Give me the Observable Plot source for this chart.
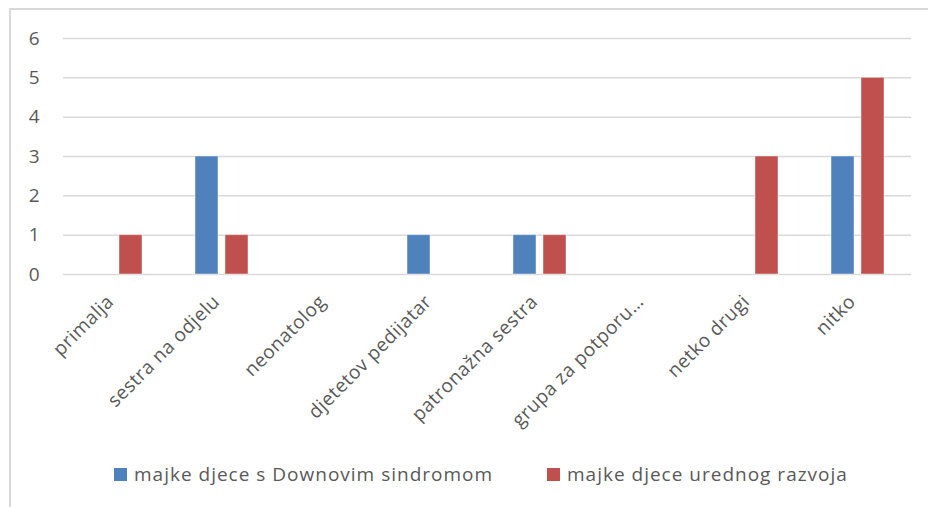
<!DOCTYPE html>
<html>
<head>
<meta charset="utf-8">
<script src="https://cdn.jsdelivr.net/npm/d3@7"></script>
<script src="https://cdn.jsdelivr.net/npm/@observablehq/plot@0.6"></script>
<style>
  html, body { margin: 0; padding: 0; background: #fff; }
  #wrap { position: relative; width: 928px; height: 507px; overflow: hidden; font-family: "Open Sans", sans-serif; }
  #frame { position: absolute; left: 9px; top: 8px; width: 940px; height: 520px; border-left: 2px solid #d9d9d9; border-top: 2px solid #d9d9d9; box-sizing: border-box; }
  #chart { position: absolute; left: 0; top: 0; }
  #chart g[aria-label="fx-axis tick label"] { letter-spacing: 0.5px; }
  #legend { position: absolute; left: 0; top: 459px; width: 928px; height: 30px; font-size: 19px; letter-spacing: 1px; color: #595959; }
  .item { position: absolute; top: 0; display: flex; align-items: center; height: 30px; white-space: nowrap; }
  .key { width: 13px; height: 13px; margin-right: 7px; }
</style>
</head>
<body>
<div id="wrap">
  <div id="frame"></div>
  <div id="chart"></div>
  <div id="legend"></div>
</div>
<script>
const categories = ["primalja", "sestra na odjelu", "neonatolog", "djetetov pedijatar", "patronažna sestra", "grupa za potporu…", "netko drugi", "nitko"];
const seriesNames = ["majke djece s Downovim sindromom", "majke djece urednog razvoja"];
const downValues = [0, 3, 0, 1, 1, 0, 0, 3];
const typicalValues = [1, 1, 0, 0, 1, 0, 3, 5];
const yTicks = [0, 1, 2, 3, 4, 5, 6];
const colors = ["#4F81BD", "#C0504D"];

const data = categories.flatMap((c, i) => [
  {category: c, series: seriesNames[0], value: downValues[i]},
  {category: c, series: seriesNames[1], value: typicalValues[i]}
]);

const chart = Plot.plot({
  width: 928,
  height: 445,
  marginLeft: 62,
  marginRight: 16,
  marginTop: 38,
  marginBottom: 171,
  style: {fontFamily: "Open Sans", fontSize: "19px", color: "#595959", background: "transparent", overflow: "visible"},
  fx: {domain: categories, padding: 0, label: null, axis: null},
  x: {domain: seriesNames, axis: null, paddingInner: 0.226, paddingOuter: 0.827},
  y: {domain: [0, 6], label: null, axis: null},
  color: {domain: seriesNames, range: colors},
  marks: [
    Plot.gridY(yTicks, {stroke: "#d9d9d9", strokeOpacity: 1, strokeWidth: 1.5}),
    Plot.axisY(yTicks, {facetAnchor: "left", tickSize: 0, tickPadding: 24, tickFormat: "d", fontSize: 19, label: null, fill: "#595959"}),
    Plot.axisFx({anchor: "bottom", tickRotate: -45, tickSize: 0, tickPadding: 22, dx: -6, dy: 2, fontSize: 19, label: null, fill: "#595959"}),
    Plot.barY(data, {fx: "category", x: "series", y: "value", fill: "series"}),
    Plot.barY(data.filter(d => d.value > 0), {
      fx: "category", x: "series", y: "value",
      fill: "none", stroke: "#ffffff", strokeOpacity: 0.45, strokeWidth: 1
    })
  ]
});
document.getElementById("chart").appendChild(chart);

const legend = document.getElementById("legend");
const legendX = [114, 547];
seriesNames.forEach((name, i) => {
  const item = document.createElement("div");
  item.className = "item";
  item.style.left = legendX[i] + "px";
  const key = document.createElement("span");
  key.className = "key";
  key.style.background = colors[i];
  const label = document.createElement("span");
  label.textContent = name;
  item.appendChild(key);
  item.appendChild(label);
  legend.appendChild(item);
});
</script>
</body>
</html>
